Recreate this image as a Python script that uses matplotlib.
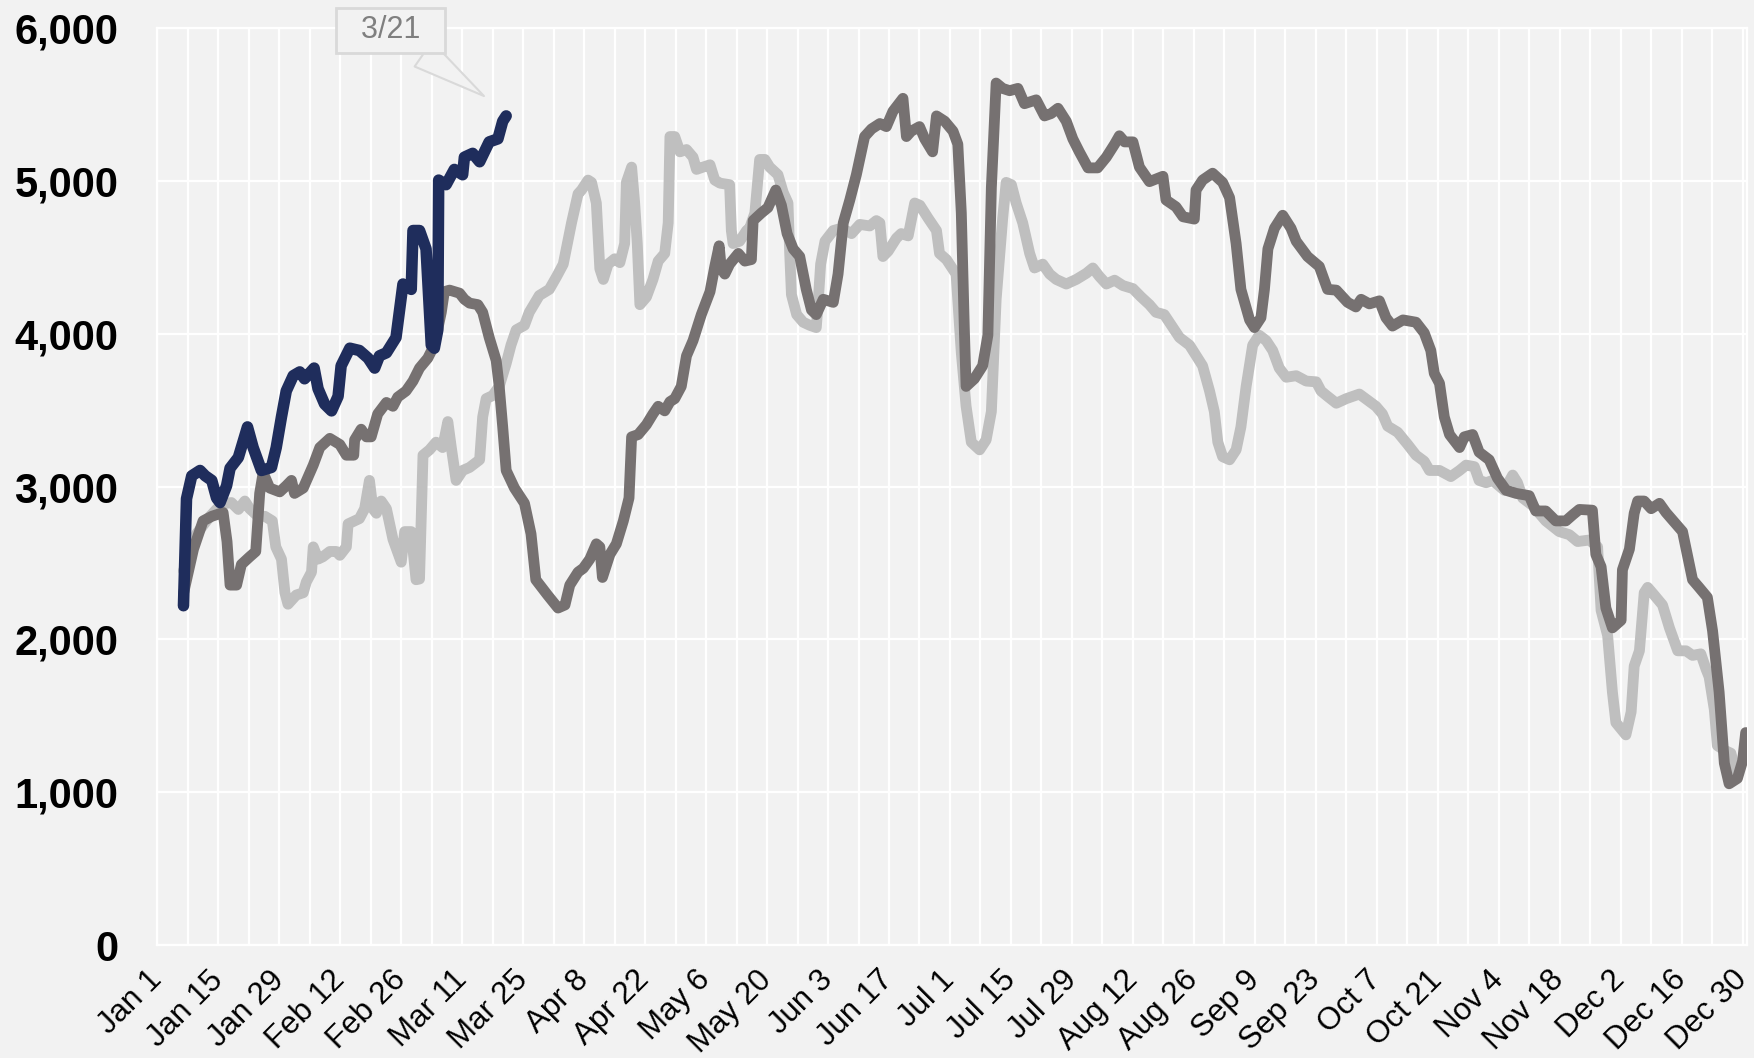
import matplotlib
matplotlib.use("Agg")
import matplotlib.pyplot as plt
import matplotlib.ticker as mticker

plt.rcParams['font.family'] = ['Liberation Sans', 'DejaVu Sans']

# ---------------------------------------------------------------------------#
# data (x = days after Jan 1, leap-year calendar)

tick_days = list(range(0, 365, 14))
tick_labels = ["Jan 1", "Jan 15", "Jan 29", "Feb 12", "Feb 26", "Mar 11", "Mar 25",
               "Apr 8", "Apr 22", "May 6", "May 20", "Jun 3", "Jun 17", "Jul 1",
               "Jul 15", "Jul 29", "Aug 12", "Aug 26", "Sep 9", "Sep 23", "Oct 7",
               "Oct 21", "Nov 4", "Nov 18", "Dec 2", "Dec 16", "Dec 30"]

# current year (ends 3/21)
cur_days = [6, 6.7, 7.9, 9.8, 11, 12.5, 13.6, 14.4, 15.9, 16.7, 18.6, 20.7, 22, 23.9,
            26.2, 27.3, 28.5, 29.6, 31.2, 32.7, 33.8, 36, 36.9, 38.4, 40, 41.5, 42.2,
            44.2, 46.4, 48.4, 49.9, 51, 52.6, 54.8, 56.4, 58.3, 58.7, 60.2, 61.7,
            62.9, 63.6, 64.4, 64.6, 66.3, 68.2, 70.1, 70.5, 72.4, 74, 76.2, 78.2,
            79.3, 80.1]
cur_vals = [2220, 2920, 3070, 3105, 3070, 3040, 2925, 2895, 3005, 3120, 3190, 3390,
            3255, 3105, 3125, 3255, 3455, 3625, 3725, 3750, 3705, 3775, 3640, 3540,
            3495, 3590, 3790, 3905, 3890, 3840, 3775, 3855, 3875, 3975, 4325, 4290,
            4675, 4675, 4555, 3925, 3905, 4025, 5005, 4975, 5075, 5040, 5155, 5180,
            5125, 5255, 5275, 5390, 5425]

# last year
ly_days = [6, 8.3, 10.5, 12.5, 15.1, 16, 16.7, 18.2, 19.3, 21.2, 22.6, 23.5, 24.3,
           25.8, 28.1, 29.6, 30.8, 31.5, 33.5, 35.8, 37.3, 39.6, 41.9, 43.4, 45.1,
           45.3, 46.8, 48, 49.1, 50.6, 52.6, 54.1, 55.2, 57.1, 58.7, 60.2, 62.1,
           63.6, 65.2, 65.9, 67.1, 69.4, 70.5, 71.7, 73.6, 74.7, 76.2, 77.8, 78.5,
           79.3, 80.1, 82, 84.3, 85.8, 86.9, 89.6, 92, 93.6, 94.7, 96.6, 97.8, 99.3,
           100.8, 101.6, 102.2, 103.9, 105.4, 107, 108.3, 108.9, 110.4, 112.3, 113.8,
           115, 116.5, 117.7, 118.8, 120.3, 121.5, 123, 124.9, 126.9, 128, 129, 129.5,
           130.3, 131.4, 133.4, 134.9, 136.4, 136.8, 138.7, 140.2, 142, 143.3, 144.6,
           146, 147.5, 149, 150.2, 151.3, 152.9, 155.2, 156.3, 157.5, 159, 160.5,
           162.4, 164, 165.9, 167.4, 168.9, 171.2, 172, 173.1, 175, 176.2, 178, 178.9,
           180.8, 182.7, 183.8, 184.6, 185.3, 185.7, 187.6, 189.5, 190.7, 191.5,
           192.6, 194.1, 195.7, 197.6, 199.1, 201.8, 203.7, 205.2, 206.8, 208.7,
           210.2, 211.7, 213.7, 215.9, 217.9, 219.8, 220.9, 222.1, 224, 225.5, 227.8,
           230.9, 231.6, 233.9, 235.5, 238.1, 238.5, 240, 242.3, 244.6, 246.2, 247.7,
           248.8, 250.8, 251.9, 253.4, 254.2, 255, 256.5, 258.4, 260.3, 261.5, 264.1,
           266.8, 268.7, 270.7, 273.3, 275.2, 276.4, 278.3, 280.6, 282.1, 283.6, 286,
           289, 290.9, 292.4, 293.2, 294.4, 295.5, 296.7, 299, 300.1, 302, 303.5,
           305.8, 307.7, 309.7, 312, 315, 316.5, 318.8, 321.1, 323.4, 325, 326.5,
           329.5, 330.3, 331.5, 332.6, 334.1, 336.1, 336.4, 338, 339.1, 339.9, 341.4,
           343, 344.9, 346.4, 348.7, 350.2, 352.5, 354, 355.9, 357.1, 358.6, 359.8,
           360.9, 362.8, 364, 364.7]
ly_vals = [2300, 2590, 2775, 2805, 2830, 2640, 2355, 2355, 2490, 2540, 2575, 2955,
           3090, 2990, 2965, 3005, 3040, 2955, 2990, 3140, 3255, 3315, 3275, 3205,
           3205, 3305, 3375, 3325, 3325, 3475, 3550, 3525, 3585, 3625, 3690, 3775,
           3840, 3925, 4140, 4275, 4285, 4265, 4225, 4200, 4190, 4140, 3975, 3825,
           3655, 3390, 3105, 2990, 2890, 2690, 2390, 2290, 2205, 2225, 2355, 2440,
           2465, 2525, 2625, 2605, 2405, 2555, 2625, 2775, 2925, 3325, 3340, 3405,
           3475, 3525, 3495, 3555, 3575, 3655, 3855, 3955, 4125, 4275, 4440, 4575,
           4425, 4390, 4455, 4525, 4475, 4485, 4740, 4790, 4825, 4940, 4840, 4655,
           4555, 4505, 4290, 4155, 4125, 4225, 4205, 4390, 4725, 4875, 5040, 5290,
           5340, 5375, 5355, 5455, 5540, 5290, 5325, 5355, 5275, 5190, 5425, 5390,
           5325, 5240, 4790, 4025, 3655, 3705, 3790, 3990, 4955, 5640, 5605, 5590,
           5605, 5505, 5530, 5425, 5440, 5475, 5390, 5275, 5190, 5085, 5085, 5155,
           5240, 5295, 5255, 5255, 5090, 4995, 5030, 4875, 4830, 4765, 4750, 4940,
           5005, 5050, 4990, 4890, 4590, 4290, 4090, 4040, 4105, 4290, 4555, 4690,
           4775, 4690, 4605, 4505, 4440, 4290, 4285, 4205, 4175, 4225, 4195, 4215,
           4105, 4050, 4090, 4075, 4005, 3890, 3740, 3675, 3455, 3340, 3255, 3325,
           3340, 3225, 3175, 3055, 2975, 2955, 2940, 2840, 2840, 2775, 2775, 2815,
           2850, 2845, 2555, 2475, 2205, 2075, 2125, 2455, 2590, 2825, 2905, 2905,
           2855, 2890, 2830, 2755, 2705, 2390, 2340, 2275, 2055, 1655, 1190, 1055,
           1090, 1205, 1390]

# two years ago
ly2_days = [6, 6.7, 9, 12.1, 14.7, 17, 18.6, 20.1, 21.2, 23.1, 24.7, 26.4, 27.2,
            28.5, 29.3, 30, 31.9, 33.5, 34.2, 35.4, 35.8, 36.9, 38, 39.6, 41.1, 41.9,
            43.4, 43.8, 45.3, 46.4, 47.6, 48.7, 49.5, 50.3, 51.4, 52.6, 54.1, 56,
            56.8, 58.3, 59.4, 60.2, 61, 62.5, 64, 65.5, 66.7, 67.5, 68.6, 70.1, 71.7,
            74, 74.7, 75.5, 77, 78.5, 80.1, 81.2, 82.4, 84.3, 85.4, 87.7, 90, 91.7,
            93.2, 95.1, 96.6, 97.4, 98.9, 99.7, 100.8, 101.6, 102.4, 103.5, 105,
            106.2, 107.3, 107.7, 108.9, 109.6, 110.2, 110.8, 112.3, 113.8, 115, 116.5,
            117.3, 117.7, 118.8, 120, 121.5, 123, 123.8, 125.3, 126.9, 128, 129.2,
            131.4, 131.8, 132.2, 133.7, 135.3, 136, 137.2, 138.3, 139.5, 140.6, 142.5,
            143.7, 144.8, 145.2, 145.6, 146.8, 148.3, 149.8, 151.3, 151.7, 152.3,
            153.3, 155.2, 157.1, 159.4, 161.3, 163.6, 165.1, 165.9, 166.6, 167.8,
            169.7, 170.8, 172.4, 173.9, 175.1, 177, 178.9, 179.6, 181.2, 183.4, 184.6,
            185.7, 186.9, 188.8, 190.3, 191.5, 192.6, 194.1, 194.9, 196.1, 197.2,
            198.7, 200.3, 201.4, 203.3, 204.9, 206.4, 208.7, 211, 213.3, 214.8, 216.3,
            217.9, 219.8, 221.7, 224, 225.9, 227.8, 229.3, 231.2, 233.2, 234.7, 237,
            240, 241.6, 242.7, 243.5, 244.6, 246.2, 247.7, 248.8, 250, 251.5, 253,
            254.6, 256.1, 257.6, 259.2, 261.5, 263.8, 266.1, 267.2, 268.7, 270.7, 273,
            276, 277.9, 279.8, 281.3, 282.5, 284.8, 287.1, 289, 290.9, 292.1, 294.4,
            297, 299, 300.5, 302.4, 303.5, 305.1, 306.6, 309.3, 311.2, 312.3, 313.5,
            315.8, 318.8, 321.9, 324.2, 326.1, 328.8, 330.7, 331.5, 333, 334.1, 334.9,
            337.2, 338.4, 339.1, 340.3, 341.4, 342.2, 343.7, 345.6, 347.2, 349.1, 351,
            352.5, 354.4, 355.6, 356.3, 357.5, 358.2, 359.8, 361.3, 362.5]
ly2_vals = [2450, 2490, 2690, 2805, 2885, 2895, 2850, 2905, 2855, 2805, 2805, 2775,
            2605, 2525, 2305, 2230, 2290, 2305, 2375, 2440, 2605, 2525, 2540, 2575,
            2575, 2550, 2605, 2755, 2775, 2790, 2855, 3040, 2855, 2825, 2905, 2855,
            2655, 2505, 2705, 2705, 2390, 2395, 3205, 3240, 3290, 3255, 3425, 3255,
            3040, 3105, 3125, 3175, 3455, 3575, 3595, 3655, 3805, 3925, 4025, 4055,
            4140, 4250, 4290, 4375, 4455, 4725, 4915, 4940, 5005, 4990, 4855, 4425,
            4355, 4455, 4490, 4465, 4590, 4990, 5090, 4855, 4590, 4190, 4240, 4355,
            4475, 4525, 4725, 5290, 5290, 5190, 5205, 5155, 5075, 5090, 5105, 5005,
            4985, 4975, 4675, 4590, 4605, 4675, 4690, 4790, 5140, 5140, 5090, 5040,
            4925, 4855, 4525, 4255, 4125, 4075, 4055, 4040, 4190, 4455, 4605, 4675,
            4690, 4655, 4715, 4705, 4740, 4725, 4505, 4540, 4625, 4655, 4640, 4855,
            4840, 4755, 4675, 4525, 4485, 4390, 3875, 3525, 3290, 3240, 3305, 3490,
            4225, 4755, 4990, 4975, 4855, 4725, 4525, 4430, 4455, 4390, 4355, 4325,
            4355, 4395, 4430, 4375, 4325, 4350, 4315, 4295, 4240, 4190, 4140, 4125,
            4040, 3975, 3925, 3790, 3625, 3490, 3290, 3195, 3175, 3240, 3390, 3655,
            3925, 3990, 3955, 3890, 3775, 3715, 3725, 3690, 3685, 3625, 3590, 3545,
            3575, 3605, 3565, 3525, 3475, 3395, 3355, 3275, 3205, 3165, 3105, 3105,
            3065, 3105, 3140, 3130, 3040, 3025, 3040, 2975, 3075, 3025, 2925, 2875,
            2775, 2705, 2685, 2640, 2650, 2605, 2190, 2025, 1655, 1455, 1375, 1525,
            1825, 1925, 2305, 2340, 2290, 2225, 2075, 1925, 1925, 1895, 1905, 1805,
            1755, 1540, 1305, 1275, 1255, 1125]

navy = '#1f2d5c'
dark_grey = '#767171'
light_grey = '#bfbfbf'
bg = '#f2f2f2'

#------------------------------------------------------------------------------#

fig = plt.figure(figsize=(17.54, 10.58), dpi=100, facecolor=bg)
ax = fig.add_axes([0.0897, 0.1068, 0.9063, 0.8667], facecolor=bg)

ax.plot(ly2_days, ly2_vals, color=light_grey, lw=7.8, solid_joinstyle='round',
        solid_capstyle='round', zorder=2)
ax.plot(ly_days, ly_vals, color=dark_grey, lw=7.8, solid_joinstyle='round',
        solid_capstyle='round', zorder=3)
ax.plot(cur_days, cur_vals, color=navy, lw=8.3, solid_joinstyle='round',
        solid_capstyle='round', zorder=4)

ax.set_xlim(0, 365)
ax.set_ylim(0, 6000)

ax.set_xticks(tick_days)
ax.set_xticks(range(0, 365, 7), minor=True)
ax.set_xticklabels(tick_labels, rotation=45, ha='right', va='center',
                   rotation_mode='anchor', fontsize=22.5)
ax.set_yticks(range(0, 6001, 1000))
ax.yaxis.set_major_formatter(mticker.FuncFormatter(lambda v, p: "{:,.0f}".format(v)))
for lbl in ax.get_yticklabels():
    lbl.set_fontweight('bold')
    lbl.set_fontsize(30)

ax.tick_params(axis='x', which='both', length=0, pad=22)
ax.tick_params(axis='y', length=0, pad=28)

ax.grid(True, which='both', color='white', lw=1.6, zorder=1)
for s in ax.spines.values():
    s.set_color('white')
    s.set_linewidth(1.6)

# callout for the last date of the current year
ax.annotate("  3/21  ", xy=(75, 5555), xytext=(53.5, 5985),
            ha='center', va='center', fontsize=22, color='#7f7f7f', zorder=5,
            annotation_clip=False,
            bbox=dict(boxstyle='square,pad=0.25', fc=bg, ec='#d9d9d9', lw=2),
            arrowprops=dict(arrowstyle='wedge,tail_width=1.0,shrink_factor=0.5',
                            fc=bg, ec='#d9d9d9', lw=1.5, shrinkA=0, shrinkB=0,
                            relpos=(0.72, 0.0)))

fig.savefig('out.png', dpi=100, facecolor=bg)
